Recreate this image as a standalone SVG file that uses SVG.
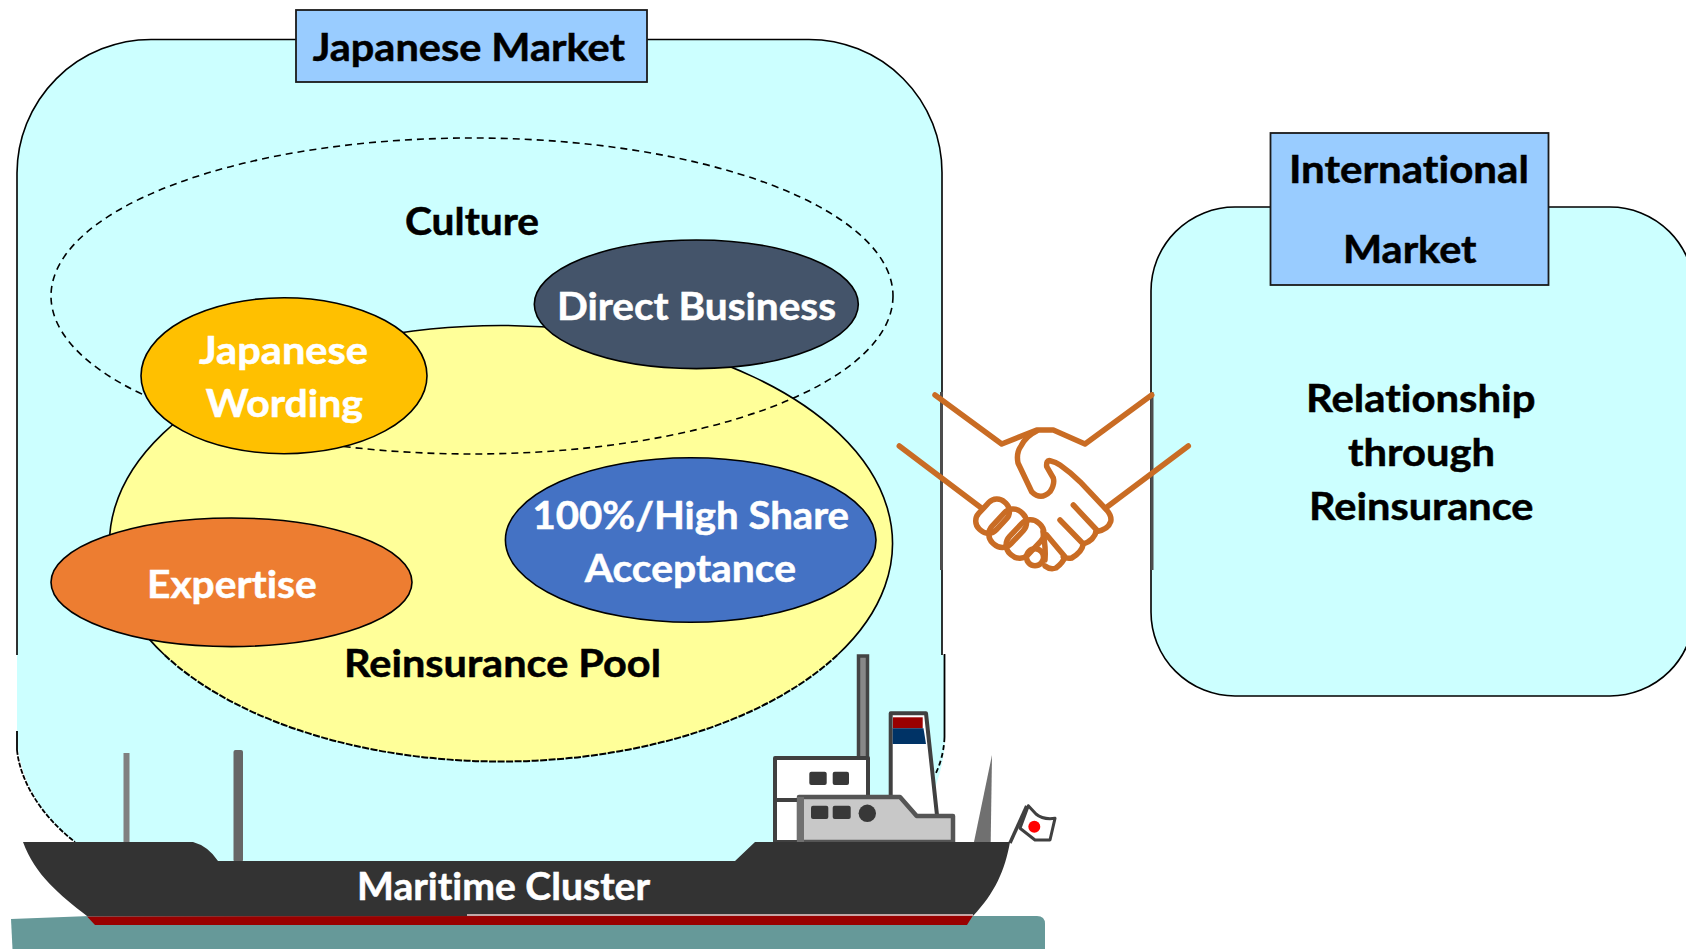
<svg xmlns="http://www.w3.org/2000/svg" width="1686" height="949" viewBox="0 0 1686 949">
<style>
text{font-family:"Lato","Open Sans","Liberation Sans",sans-serif;font-weight:700;font-size:38px;font-variant-ligatures:none;stroke-width:.5px}
.w{fill:#fff;stroke:#fff}.k{fill:#000;stroke:#000}
.ol{stroke:#000;stroke-width:1.6}
.box{fill:#9cf;stroke:#1a1a1a;stroke-width:1.8}
.hs{fill:none;stroke:#c96c24;stroke-width:5.500;stroke-linecap:round;stroke-linejoin:round}
.sh{stroke:#404040;stroke-width:4;stroke-linejoin:round}
.win{fill:#383838}
</style>
<rect width="1686" height="949" fill="#fff"/>
<g id="japanese-market">
<path d="M17 655V173A134 134 0 0 1 151 39.500H809A133 133 0 0 1 942 172.500V655H945V737C945 765 935 790 915 842V870H100L75 842C40 815 17 775 17 733Z" fill="#cff"/>
<path d="M17 655V173A134 134 0 0 1 151 39.500H809A133 133 0 0 1 942 172.500V655" fill="none" class="ol"/>
<path d="M944.500 654V737" fill="none" stroke="#000" stroke-width="1.800"/>
<path d="M944.500 737C944 752 940 765 935 775" fill="none" stroke="#000" stroke-width="1.800" stroke-dasharray="5 3"/>
<path d="M17 731V750" fill="none" stroke="#000" stroke-width="1.800"/>
<path d="M17 750C20 780 40 815 75 842" fill="none" stroke="#000" stroke-width="1.800" stroke-dasharray="5 1.500"/>
<rect class="box" x="296" y="10" width="351" height="72"/>
<text class="k" x="312.700" y="60.500" textLength="312.300" lengthAdjust="spacingAndGlyphs">Japanese Market</text>
</g>
<g id="reinsurance-pool">
<ellipse cx="501" cy="543.500" rx="391.500" ry="218" fill="#ff9"/>
<path d="M164.600 655A391.500 218 0 1 1 837.400 655" fill="none" class="ol"/>
<path d="M164.600 655A391.500 218 0 0 0 837.400 655" fill="none" stroke="#000" stroke-width="2" stroke-dasharray="7 1.500"/>
<text class="k" x="344" y="677" textLength="317" lengthAdjust="spacingAndGlyphs">Reinsurance Pool</text>
</g>
<g id="culture">
<ellipse cx="472" cy="296" rx="421" ry="158" fill="none" stroke="#000" stroke-width="1.600" stroke-dasharray="7 5"/>
<text class="k" x="405" y="234.500" textLength="134" lengthAdjust="spacingAndGlyphs">Culture</text>
</g>
<g id="japanese-wording">
<ellipse class="ol" cx="284" cy="375.700" rx="143" ry="78" fill="#ffc000"/>
<text class="w" x="199" y="364" textLength="169" lengthAdjust="spacingAndGlyphs">Japanese</text>
<text class="w" x="205.700" y="417" textLength="157.300" lengthAdjust="spacingAndGlyphs">Wording</text>
</g>
<g id="direct-business">
<ellipse class="ol" cx="696.300" cy="304.300" rx="162" ry="64.300" fill="#44546a"/>
<text class="w" x="557" y="320" textLength="279" lengthAdjust="spacingAndGlyphs">Direct Business</text>
</g>
<g id="expertise">
<ellipse class="ol" cx="231.500" cy="582.300" rx="180.500" ry="64.300" fill="#ed7d31"/>
<text class="w" x="147" y="598" textLength="169.700" lengthAdjust="spacingAndGlyphs">Expertise</text>
</g>
<g id="high-share">
<ellipse class="ol" cx="690.700" cy="540" rx="185.300" ry="82.300" fill="#4472c4"/>
<text class="w" x="532.500" y="529" textLength="316.500" lengthAdjust="spacingAndGlyphs">100%/High Share</text>
<text class="w" x="584.700" y="582" textLength="211.300" lengthAdjust="spacingAndGlyphs">Acceptance</text>
</g>
<g id="international-market">
<rect x="1151" y="207" width="543" height="489" rx="84" ry="84" fill="#cff" class="ol"/>
<rect class="box" x="1270.500" y="133" width="278" height="152"/>
<text class="k" x="1288.900" y="183" textLength="240" lengthAdjust="spacingAndGlyphs">International</text>
<text class="k" x="1343" y="262.700" textLength="133.500" lengthAdjust="spacingAndGlyphs">Market</text>
<text class="k" x="1306" y="412" textLength="229.500" lengthAdjust="spacingAndGlyphs">Relationship</text>
<text class="k" x="1348" y="465.700" textLength="147" lengthAdjust="spacingAndGlyphs">through</text>
<text class="k" x="1309" y="520" textLength="224.500" lengthAdjust="spacingAndGlyphs">Reinsurance</text>
</g>
<g id="handshake">
<path d="M941.500 392V570M1152 392V570" stroke="#4d4d4d" stroke-width="3" fill="none"/>
<g class="hs">
<path d="M935 395L1001.700 444L1036.700 430H1053.300L1085 444L1151.700 395"/>
<path d="M899.300 446L981.700 508.300M1188.300 446L1106.700 507.300"/>
<path d="M1036.700 431Q1026 436 1021 446Q1016 453 1018 463L1031.700 491.700Q1041 501 1050 491.700Q1055 484 1053.300 478L1046.700 466.700Q1046 460 1050 460.700Q1056 462 1060 465Q1070 472 1080 481.700L1106.700 510Q1112 516 1110.700 521.700Q1108 530 1096 531.700"/>
<path d="M1073.300 505L1096.700 530Q1094 541 1083 544M1060 520L1083.300 544Q1082 552 1071.700 558Q1067 559 1063.300 556.700M1046.700 535L1065 556.700Q1063 563 1056 568Q1050 570 1045 566"/>
<rect x="974" y="504" width="37" height="24" rx="11" transform="rotate(-47 992.700 516)"/>
<rect x="986.700" y="515.300" width="42" height="26" rx="12" transform="rotate(-47 1007.700 528.300)"/>
<rect x="1004" y="526" width="42" height="26" rx="12" transform="rotate(-47 1025 539)"/>
<circle cx="1035" cy="557.300" r="8.500"/>
<path d="M1043 532Q1046 548 1045 560"/>
</g>
</g>
<g id="ship">
<path d="M11 919L90 916H1037Q1045 916 1045 924V949H12.500Z" fill="#699"/>
<rect x="123.500" y="753" width="6" height="90" fill="#808080"/>
<rect x="233.500" y="750" width="9.500" height="112" rx="2" fill="#666"/>
<path d="M974 842L992 755L990.700 842Z" fill="#707070"/>
<rect x="858.500" y="656" width="9" height="102" fill="#888" stroke="#444" stroke-width="3.500"/>
<path class="sh" d="M775 842V758H868V800H775Z" fill="#fff"/>
<path class="sh" d="M775 800V842H800V800Z" fill="#fff"/>
<path class="sh" d="M890.700 713.300H926L937.300 818H890.700Z" fill="#fff"/>
<rect x="893" y="717.300" width="29.700" height="11" fill="#900"/>
<path d="M892.700 728.300H923.500L926 744H892.700Z" fill="#036"/>
<path d="M799 842V797H900L916.700 816H953V842Z" fill="#c8c8c8" stroke="#555" stroke-width="4.500" stroke-linejoin="round"/>
<rect x="797" y="797" width="7" height="45" fill="#707070"/>
<rect class="win" x="809.300" y="771.700" width="17.400" height="13.300" rx="2"/>
<rect class="win" x="832.700" y="771.700" width="16.300" height="13.300" rx="2"/>
<rect class="win" x="811" y="805.700" width="17.300" height="13.300" rx="2"/>
<rect class="win" x="832.700" y="805.700" width="18" height="13.300" rx="2"/>
<circle class="win" cx="867.300" cy="813.300" r="8.700"/>
<path d="M1010 843L1026.700 806" stroke="#404040" stroke-width="3.500" fill="none"/>
<path d="M1028.300 805.700L1036 814Q1043 820 1055 818.300L1050 840H1035L1020 828.300Z" fill="#fff" stroke="#404040" stroke-width="3" stroke-linejoin="round"/>
<circle cx="1034.300" cy="826.700" r="6" fill="#f00"/>
<path d="M23 842H193Q208 846 218 861H735L755 842H1010C1005 870 995 893 973 916H87C60 895 35 875 23 842Z" fill="#333"/>
<path d="M87 916.500L95 925H967L973 915.500Z" fill="#900"/>
<path d="M467 915H973" stroke="#f0d0d0" stroke-width="1.500"/>
<text class="w" x="357" y="900" textLength="293" lengthAdjust="spacingAndGlyphs">Maritime Cluster</text>
</g>
</svg>
